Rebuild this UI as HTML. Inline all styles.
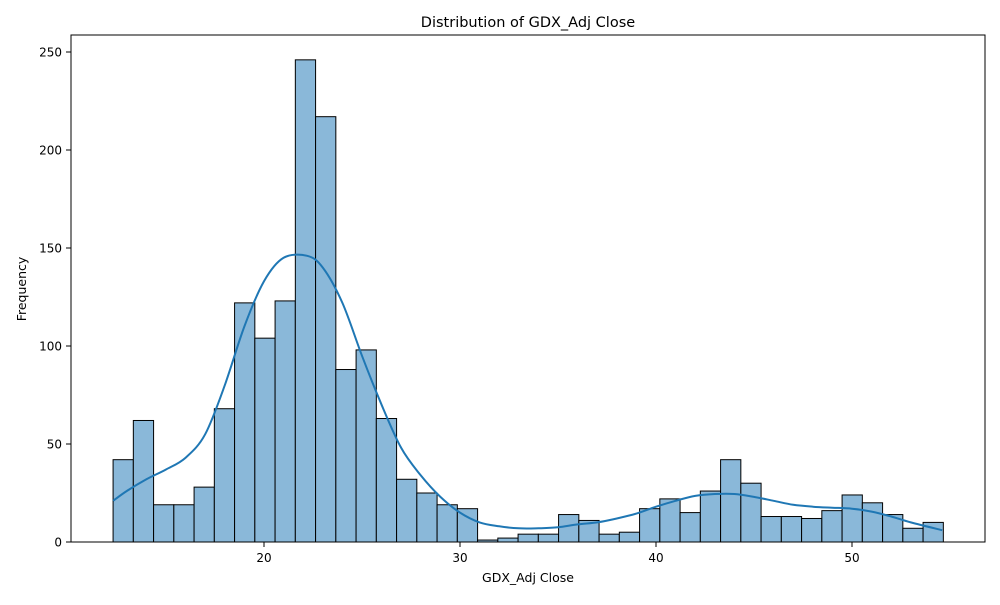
<!DOCTYPE html>
<html><head><meta charset="utf-8"><style>
body{margin:0;background:#fff;font-family:"Liberation Sans","DejaVu Sans",sans-serif}
svg text{font-family:"DejaVu Sans","Liberation Sans",sans-serif}
</style></head><body>
<svg id="chart" width="1000" height="600">
<rect width="1000" height="600" fill="#fff"/>
<g id="bars"></g>
<path id="kde" fill="none" stroke="#1f77b4" stroke-width="2"/>
<rect x="71" y="35" width="914" height="507" fill="none" stroke="#000" stroke-width="1"/>
<g id="xt"></g><g id="yt"></g>
<text x="528" y="27" font-size="14.5" text-anchor="middle">Distribution of GDX_Adj Close</text>
<text x="528" y="582" font-size="12.5" text-anchor="middle">GDX_Adj Close</text>
<text transform="translate(26,289) rotate(-90)" font-size="12.5" text-anchor="middle">Frequency</text>
</svg>
<script>
const counts=[42,62,19,19,28,68,122,104,123,246,217,88,98,63,32,25,19,17,1,2,4,4,14,11,4,5,17,22,15,26,42,30,13,13,12,16,24,20,14,7,10];
const binStart=12.3, binEnd=54.66;
const xTicks=[20,30,40,50];
const yTicks=[0,50,100,150,200,250];
const kdeX=[12.3,13,14,15,16,17,18,19,20,21,22.2,23,24,25,26,27,28,29,30,31,32,33,34,35,36,37,38,39,40,41,42,43,44,45,46,47,48,49,50,51,52,53,54.6];
const kdeY=[21,26,32,37,43,55,80,110,133,145,146,140,122,95,70,48,34,23,15,10,8,7,7,7.5,9,10,12,14.5,18,21,23.5,24.5,24.5,23,21,19,18,17.5,17,15.5,13,10,6];
const NS="http://www.w3.org/2000/svg";
const X=v=>264+(v-20)*19.6, Y=v=>542-v*1.96;
const bw=(binEnd-binStart)/counts.length;
const bars=document.getElementById('bars');
counts.forEach((c,i)=>{const r=document.createElementNS(NS,'rect');
const x0=X(binStart+i*bw),x1=X(binStart+(i+1)*bw);
r.setAttribute('x',x0);r.setAttribute('y',Y(c));r.setAttribute('width',x1-x0);r.setAttribute('height',Y(0)-Y(c));
r.setAttribute('fill','#8ab8d9');r.setAttribute('stroke','#000');r.setAttribute('stroke-width','1');


bars.appendChild(r);});
const P=kdeX.map((x,i)=>[X(x),Y(kdeY[i])]);
let d='M'+P[0][0].toFixed(1)+','+P[0][1].toFixed(1);
for(let i=0;i<P.length-1;i++){const p0=P[Math.max(0,i-1)],p1=P[i],p2=P[i+1],p3=P[Math.min(P.length-1,i+2)];
const c1=[p1[0]+(p2[0]-p0[0])/6,p1[1]+(p2[1]-p0[1])/6],c2=[p2[0]-(p3[0]-p1[0])/6,p2[1]-(p3[1]-p1[1])/6];
d+='C'+c1.map(v=>v.toFixed(1)).join(',')+' '+c2.map(v=>v.toFixed(1)).join(',')+' '+p2.map(v=>v.toFixed(1)).join(',');}
document.getElementById('kde').setAttribute('d',d);
const xt=document.getElementById('xt');
xTicks.forEach(t=>{const l=document.createElementNS(NS,'line');l.setAttribute('x1',X(t));l.setAttribute('x2',X(t));l.setAttribute('y1',542);l.setAttribute('y2',547);l.setAttribute('stroke','#000');


xt.appendChild(l);
const s=document.createElementNS(NS,'text');s.setAttribute('x',X(t));s.setAttribute('y',562);s.setAttribute('font-size','12');s.setAttribute('text-anchor','middle');s.textContent=t;


xt.appendChild(s);});
const yt=document.getElementById('yt');
yTicks.forEach(t=>{const l=document.createElementNS(NS,'line');l.setAttribute('x1',66);l.setAttribute('x2',71);l.setAttribute('y1',Y(t));l.setAttribute('y2',Y(t));l.setAttribute('stroke','#000');


yt.appendChild(l);
const s=document.createElementNS(NS,'text');s.setAttribute('x',62);s.setAttribute('y',Y(t)+4.5);s.setAttribute('font-size','12');s.setAttribute('text-anchor','end');s.textContent=t;


yt.appendChild(s);});
</script>
</body></html>
